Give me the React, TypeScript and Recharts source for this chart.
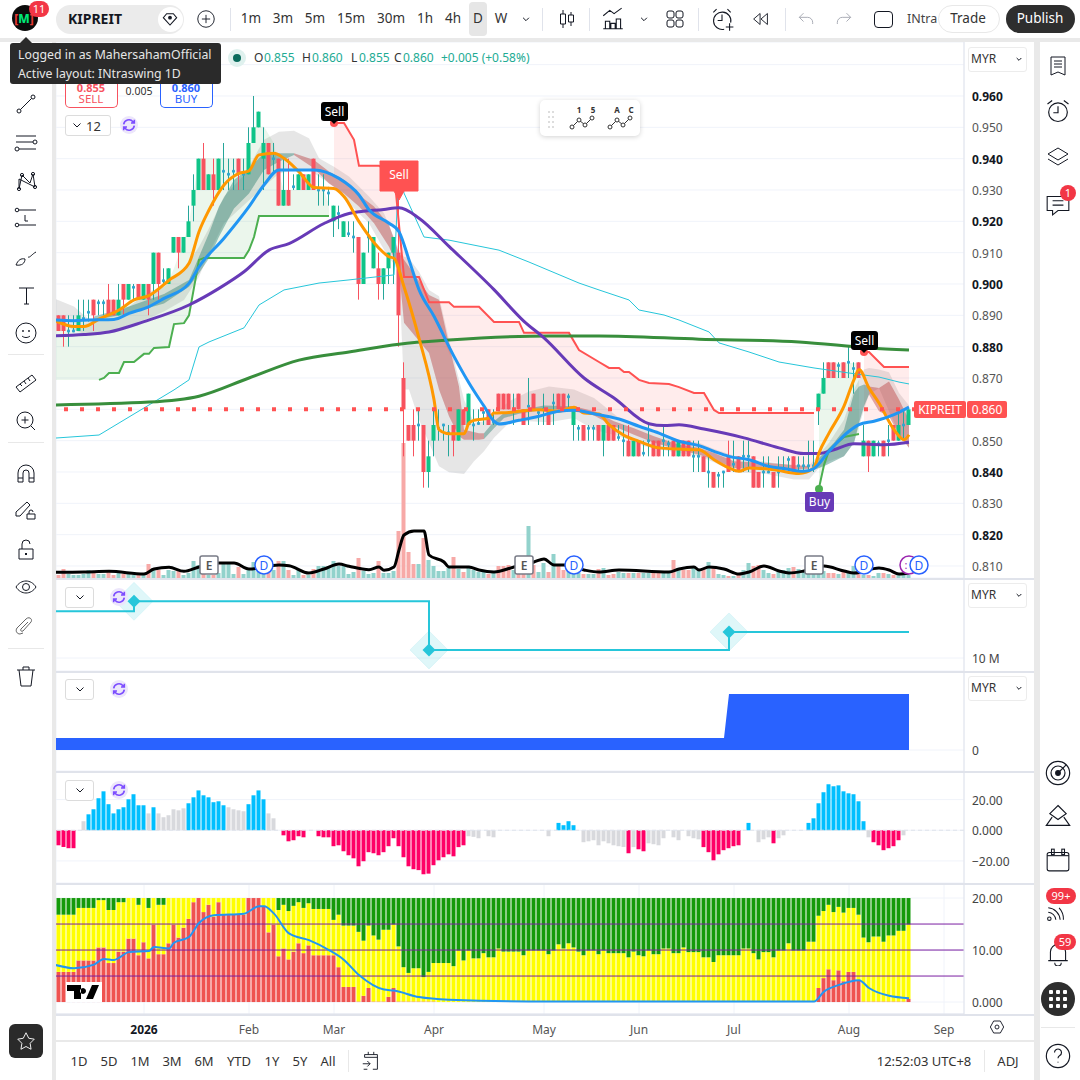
import {
  Area,
  Bar,
  CartesianGrid,
  Cell,
  ComposedChart,
  Line,
  ReferenceDot,
  ReferenceLine,
  XAxis,
  YAxis,
} from 'recharts'

const FONT = '"Noto Sans", "Open Sans", sans-serif'

// daily candles
const opens = [
  0.89, 0.89, 0.885, 0.885, 0.885, 0.889, 0.891, 0.895, 0.894, 0.894,
  0.895, 0.895, 0.89, 0.9, 0.895, 0.899, 0.9, 0.895, 0.9, 0.9,
  0.91, 0.901, 0.9, 0.91, 0.915, 0.91, 0.915, 0.925, 0.93, 0.94,
  0.93, 0.935, 0.93, 0.936, 0.935, 0.936, 0.94, 0.935, 0.935, 0.945,
  0.95, 0.94, 0.945, 0.94, 0.94, 0.925, 0.93, 0.931, 0.93, 0.935,
  0.93, 0.94, 0.93, 0.93, 0.929, 0.92, 0.9225, 0.915, 0.916, 0.915,
  0.915, 0.9, 0.915, 0.905, 0.905, 0.9, 0.905, 0.91, 0.91, 0.87,
  0.855, 0.855, 0.855, 0.855, 0.84, 0.85, 0.854, 0.855, 0.8525, 0.855,
  0.85, 0.86, 0.855, 0.855, 0.8555, 0.859, 0.86, 0.856, 0.865, 0.865,
  0.865, 0.86, 0.865, 0.86, 0.861, 0.865, 0.859, 0.86, 0.86, 0.862,
  0.865, 0.865, 0.864, 0.855, 0.854, 0.855, 0.854, 0.854, 0.855, 0.85,
  0.855, 0.855, 0.851, 0.85, 0.85, 0.845, 0.85, 0.846, 0.85, 0.85,
  0.85, 0.85, 0.849, 0.85, 0.845, 0.85, 0.85, 0.845, 0.845, 0.845,
  0.84, 0.84, 0.839, 0.84, 0.845, 0.8425, 0.845, 0.845, 0.845, 0.845,
  0.84, 0.84, 0.84, 0.84, 0.84, 0.841, 0.844, 0.845, 0.842, 0.842,
  0.842, 0.842, 0.86, 0.865, 0.875, 0.875, 0.874, 0.875, 0.875, 0.873,
  0.875, 0.845, 0.85, 0.845, 0.849, 0.85, 0.85, 0.855, 0.85, 0.855,
  0.855,
]
const closes = [
  0.885, 0.885, 0.885, 0.885, 0.89, 0.889, 0.891, 0.89, 0.894, 0.894,
  0.89, 0.89, 0.895, 0.895, 0.9, 0.899, 0.895, 0.9, 0.895, 0.91,
  0.9, 0.901, 0.905, 0.915, 0.91, 0.915, 0.92, 0.93, 0.94, 0.93,
  0.935, 0.93, 0.94, 0.936, 0.935, 0.936, 0.935, 0.935, 0.945, 0.95,
  0.955, 0.945, 0.935, 0.94, 0.925, 0.93, 0.925, 0.931, 0.935, 0.93,
  0.935, 0.93, 0.93, 0.93, 0.929, 0.925, 0.9225, 0.92, 0.916, 0.915,
  0.9, 0.91, 0.915, 0.915, 0.9, 0.905, 0.91, 0.915, 0.89, 0.86,
  0.85, 0.85, 0.855, 0.84, 0.845, 0.855, 0.854, 0.855, 0.8525, 0.85,
  0.86, 0.855, 0.865, 0.855, 0.8555, 0.859, 0.855, 0.856, 0.86, 0.86,
  0.86, 0.86, 0.86, 0.855, 0.861, 0.86, 0.859, 0.86, 0.855, 0.862,
  0.86, 0.86, 0.864, 0.86, 0.854, 0.85, 0.854, 0.854, 0.85, 0.855,
  0.85, 0.85, 0.851, 0.85, 0.845, 0.85, 0.845, 0.846, 0.85, 0.845,
  0.845, 0.85, 0.849, 0.845, 0.85, 0.845, 0.845, 0.845, 0.845, 0.84,
  0.84, 0.835, 0.839, 0.84, 0.84, 0.8425, 0.84, 0.845, 0.845, 0.835,
  0.835, 0.84, 0.84, 0.835, 0.84, 0.841, 0.844, 0.84, 0.842, 0.842,
  0.842, 0.842, 0.865, 0.87, 0.87, 0.87, 0.874, 0.87, 0.875, 0.873,
  0.87, 0.85, 0.845, 0.85, 0.849, 0.845, 0.85, 0.85, 0.855, 0.855,
  0.86,
]
const highs = [
  0.89, 0.89, 0.89, 0.89, 0.895, 0.895, 0.895, 0.895, 0.895, 0.895,
  0.9, 0.895, 0.9, 0.9, 0.9, 0.9, 0.9, 0.9, 0.9, 0.91,
  0.91, 0.905, 0.905, 0.915, 0.915, 0.915, 0.925, 0.935, 0.94, 0.945,
  0.935, 0.94, 0.94, 0.945, 0.94, 0.94, 0.94, 0.94, 0.95, 0.96,
  0.955, 0.95, 0.945, 0.945, 0.94, 0.94, 0.94, 0.935, 0.935, 0.935,
  0.935, 0.94, 0.935, 0.935, 0.931, 0.925, 0.925, 0.92, 0.92, 0.92,
  0.915, 0.91, 0.92, 0.915, 0.91, 0.905, 0.91, 0.915, 0.937, 0.875,
  0.855, 0.86, 0.86, 0.855, 0.85, 0.86, 0.86, 0.855, 0.855, 0.855,
  0.86, 0.86, 0.865, 0.86, 0.86, 0.86, 0.86, 0.86, 0.865, 0.865,
  0.865, 0.865, 0.865, 0.86, 0.87, 0.865, 0.86, 0.865, 0.86, 0.865,
  0.865, 0.865, 0.865, 0.86, 0.855, 0.855, 0.855, 0.855, 0.855, 0.855,
  0.855, 0.855, 0.855, 0.855, 0.855, 0.85, 0.85, 0.85, 0.855, 0.85,
  0.85, 0.855, 0.85, 0.85, 0.85, 0.85, 0.85, 0.85, 0.85, 0.845,
  0.845, 0.84, 0.84, 0.84, 0.85, 0.85, 0.845, 0.85, 0.85, 0.845,
  0.84, 0.845, 0.845, 0.84, 0.845, 0.845, 0.845, 0.845, 0.845, 0.845,
  0.85, 0.85, 0.865, 0.875, 0.875, 0.875, 0.875, 0.875, 0.88, 0.875,
  0.875, 0.855, 0.85, 0.85, 0.85, 0.85, 0.855, 0.855, 0.86, 0.86,
  0.86,
]
const lows = [
  0.885, 0.88, 0.88, 0.885, 0.885, 0.885, 0.888, 0.885, 0.89, 0.89,
  0.89, 0.89, 0.89, 0.89, 0.895, 0.895, 0.895, 0.895, 0.89, 0.895,
  0.895, 0.9, 0.9, 0.91, 0.905, 0.91, 0.915, 0.92, 0.93, 0.93,
  0.93, 0.925, 0.93, 0.93, 0.93, 0.93, 0.93, 0.93, 0.935, 0.945,
  0.95, 0.93, 0.935, 0.935, 0.925, 0.925, 0.925, 0.93, 0.93, 0.93,
  0.93, 0.93, 0.925, 0.925, 0.925, 0.915, 0.9175, 0.915, 0.915, 0.91,
  0.895, 0.9, 0.91, 0.905, 0.895, 0.895, 0.9, 0.9, 0.88, 0.845,
  0.85, 0.845, 0.85, 0.835, 0.835, 0.845, 0.85, 0.85, 0.845, 0.845,
  0.85, 0.855, 0.855, 0.85, 0.855, 0.855, 0.855, 0.855, 0.86, 0.86,
  0.86, 0.855, 0.86, 0.855, 0.855, 0.86, 0.855, 0.855, 0.855, 0.855,
  0.86, 0.86, 0.86, 0.85, 0.85, 0.85, 0.85, 0.85, 0.85, 0.845,
  0.85, 0.85, 0.85, 0.845, 0.845, 0.845, 0.845, 0.845, 0.845, 0.845,
  0.845, 0.845, 0.845, 0.845, 0.845, 0.845, 0.845, 0.84, 0.84, 0.84,
  0.835, 0.835, 0.835, 0.835, 0.84, 0.84, 0.84, 0.84, 0.84, 0.835,
  0.835, 0.835, 0.84, 0.835, 0.835, 0.84, 0.84, 0.84, 0.84, 0.84,
  0.84, 0.84, 0.855, 0.865, 0.87, 0.87, 0.87, 0.87, 0.87, 0.865,
  0.87, 0.845, 0.84, 0.845, 0.845, 0.845, 0.845, 0.85, 0.85, 0.85,
  0.855,
]
const volumes = [
  3, 9, 4, 3, 3, 4, 8, 5, 4, 4, 7, 3, 6, 4, 4, 3, 3, 3, 14, 10,
  8, 3, 8, 7, 7, 3, 5, 17, 13, 6, 3, 3, 5, 16, 14, 4, 11, 4, 9, 16,
  8, 5, 6, 8, 17, 17, 8, 3, 8, 3, 3, 9, 12, 12, 12, 17, 12, 12, 4, 6,
  20, 7, 4, 5, 17, 5, 5, 7, 47, 135, 26, 14, 14, 40, 18, 12, 7, 7, 10, 21,
  9, 6, 10, 8, 6, 6, 4, 5, 12, 12, 13, 8, 7, 8, 52, 13, 6, 15, 6, 24,
  13, 8, 12, 11, 5, 4, 4, 4, 9, 10, 3, 4, 6, 5, 5, 5, 5, 5, 5, 5,
  5, 5, 5, 18, 10, 8, 8, 10, 8, 10, 16, 10, 4, 3, 2, 2, 3, 8, 15, 12,
  13, 8, 5, 4, 8, 8, 10, 11, 9, 6, 4, 4, 10, 7, 5, 5, 4, 6, 6, 12,
  5, 3, 3, 2, 5, 5, 4, 3, 5, 4, 3,
]

// overlay lines as [bar, value]; bar -1 runs under the left edge of the plot
const orangePts = [[-1,.8885],[3,.8864],[5,.8864],[8,.8888],[12,.8917],[15,.8949],[18,.8963],[22,.9012],[26,.9066],[28,.9167],[30,.9236],[33,.9316],[36,.9353],[38,.9361],[40,.9412],[43,.9417],[45,.9401],[48,.9358],[51,.9308],[55,.9305],[57,.9279],[60,.9199],[64,.9114],[66,.9087],[67,.9082],[69,.8991],[72,.8827],[75,.8631],[76,.8535],[78,.8522],[81,.8522],[82,.8556],[83,.8565],[86,.8572],[87,.8588],[90,.859],[92,.8594],[96,.8599],[100,.8594],[103,.8607],[105,.8588],[108,.8585],[110,.8551],[113,.8517],[116,.8498],[120,.8477],[124,.8473],[128,.8471],[131,.8439],[134,.8413],[136,.8402],[138,.8413],[143,.8407],[148,.8395],[151,.8413],[152,.8461],[154,.8524],[157,.861],[159,.8695],[160,.8727],[162,.8668],[164,.862],[167,.8535],[169,.8503],[170,.8519]]
const bluePts = [[-1,.8885],[3,.8883],[6,.8885],[11,.8887],[14,.8906],[18,.8928],[21,.8954],[26,.9002],[28,.9055],[33,.9146],[38,.9247],[41,.9316],[44,.9364],[51,.9364],[56,.9337],[60,.9284],[62,.9237],[66,.9194],[68,.9167],[70,.9077],[72,.8982],[75,.8897],[79,.8769],[82,.8684],[85,.861],[87,.8562],[88,.8553],[92,.8565],[96,.8578],[100,.8594],[103,.8597],[107,.8586],[112,.8569],[116,.8546],[120,.8524],[124,.8498],[128,.8484],[131,.8466],[134,.845],[138,.8439],[142,.8418],[145,.8411],[149,.8402],[151,.8411],[154,.8466],[158,.853],[160,.8551],[163,.8562],[167,.8583],[170,.8607]]
const purplePts = [[-1,.8835],[5,.8839],[10,.8847],[17,.888],[26,.8933],[32,.8986],[37,.9039],[42,.9108],[46,.9129],[53,.9193],[58,.9225],[65,.9238],[68,.9243],[72,.921],[78,.912],[87,.8982],[93,.8881],[97,.8828],[105,.87],[111,.8636],[118,.8554],[121,.8548],[124,.8551],[129,.8537],[137,.8509],[144,.8477],[149,.8459],[152,.8459],[155,.8471],[159,.849],[165,.8487],[170,.8495]]
const longPts = [[-1,.8614],[18,.8623],[28,.8642],[38,.87],[48,.8757],[58,.8783],[68,.8808],[78,.8821],[98,.8834],[108,.8834],[128,.8824],[148,.8815],[162,.8796],[170,.8789]]
const thinPts = [[-1,.8508],[8,.8518],[18,.8614],[23,.8662],[26,.8694],[28,.8799],[30,.8815],[37,.886],[40,.8933],[45,.8981],[52,.9003],[58,.9013],[67,.9029],[68,.9373],[69,.929],[73,.915],[78,.914],[88,.9108],[94,.907],[104,.9003],[108,.8981],[111,.8965],[114,.8949],[116,.8917],[121,.8901],[124,.8885],[130,.8847],[132,.8812],[138,.8783],[144,.8751],[151,.8732],[158,.8716],[164,.8703],[168,.8687],[170,.8681]]
const volAvgPts = [[-1,5.7],[5,6],[10,6.7],[17,4],[19,9],[22,10.7],[25,6.7],[28,11],[32,15],[35,15],[38,9],[44,13],[46,12.3],[50,5],[53,9],[56,14],[58,11.7],[62,8.3],[64,11],[65,7.7],[67,11],[68,28],[69,43],[71,47],[73,47],[74,23],[77,16],[78,11],[82,11],[84,8],[87,6],[91,11],[95,16],[97,19],[99,13],[101,13],[105,8],[108,6],[112,8],[122,6],[124,9],[127,11],[128,8],[130,11],[133,9],[136,4],[138,6],[141,12],[144,7],[146,5],[149,7],[153,12],[157,7],[159,5],[164,10],[166,8],[168,4],[170,5]]

// filled bands as [bar, low, high]
const pinkA = [[55,.9345,.9514],[57,.9325,.9514],[59,.93,.946],[60,.9284,.9377],[64,.9215,.9377],[65,.9205,.937],[67,.918,.9357],[69,.911,.9022],[72,.901,.9022],[74,.8938,.8942],[78,.878,.8942],[79,.875,.8927],[84,.8645,.8927],[87,.8562,.8879],[92,.8565,.8879],[93,.8565,.8844],[102,.8597,.8844],[104,.8597,.8789],[108,.8583,.8751],[110,.8575,.8732],[112,.8569,.8732],[113,.8565,.8719],[114,.856,.8719],[116,.8546,.8694],[118,.8535,.8684],[122,.8512,.8681],[124,.8498,.8671],[127,.8478,.8652],[129,.8475,.8652],[131,.8466,.8598],[132,.846,.8588],[151,.8411,.8588]]
const pinkB = [[161,.8555,.8783],[162,.8558,.8783],[165,.8575,.8735],[170,.8607,.8735]]
const greenA = [[-1,.8694,.8885],[4,.8694,.8864],[8,.8694,.8891],[9,.87,.89],[10,.8716,.8905],[12,.8716,.8917],[13,.8751,.8925],[15,.8751,.8949],[17,.8777,.8955],[18,.8777,.8963],[19,.8796,.8975],[22,.8799,.9013],[23,.8872,.905],[25,.8875,.914],[26,.89,.9194],[28,.9077,.9401],[29,.9083,.9401],[37,.9083,.9401],[38,.9108,.9401],[39,.915,.9502],[40,.9217,.9502],[41,.9217,.9502],[43,.9217,.9449],[44,.9217,.9348],[45,.9217,.93],[53,.9217,.93],[54,.9217,.9252]]
const greenB = [[152,.8349,.8652],[153,.8422,.87],[154,.847,.8748],[157,.8512,.8748],[160,.8521,.8748]]
const greyCloud = [[-1,.8885,.8954],[3,.8853,.8928],[6,.8834,.8887],[11,.8848,.8901],[14,.8869,.8928],[18,.8891,.8976],[21,.8912,.8991],[25,.8949,.9045],[28,.9023,.9119],[30,.9098,.9178],[33,.9194,.9279],[37,.9252,.9348],[41,.9311,.946],[44,.9353,.9486],[47,.9364,.9489],[50,.9364,.9465],[52,.9343,.9401],[55,.9311,.9374],[58,.9257,.9343],[62,.9194,.9279],[65,.9109,.9226],[68,.9039,.9109],[69,.8663,.9087],[70,.8663,.9082],[72,.8567,.9039],[74,.8493,.8981],[76,.8418,.8961],[78,.8399,.8822],[81,.8394,.8631],[83,.8434,.8556],[85,.8466,.8562],[87,.8509,.8583],[90,.8556,.8626],[94,.8562,.8657],[98,.8559,.8673],[103,.8572,.8663],[107,.8535,.8636],[112,.8514,.8572],[117,.8482,.8535],[124,.8461,.8503],[128,.845,.8493],[131,.8431,.8473],[135,.8399,.8452],[141,.8395,.8434],[147,.8376,.8421],[150,.8376,.8421],[152,.8413,.8455],[154,.8434,.8493],[157,.845,.8567],[159,.8493,.8663],[161,.8599,.8727],[162,.8647,.8732],[164,.8668,.8727],[166,.8594,.8718],[168,.8524,.8652],[170,.8477,.8612]]
const tealRibbonA = [[7,.8885,.8896],[14,.8906,.8928],[21,.8938,.8968],[26,.8991,.9013],[28,.9034,.9087],[30,.9082,.9162],[32,.9151,.9247],[35,.9241,.9332],[38,.9289,.9369],[41,.9364,.9417],[44,.939,.9417],[47,.9412,.9417]]
const redRibbonA = [[47,.9412,.9417],[51,.9369,.9396],[54,.9321,.9359],[57,.9289,.9332],[60,.9247,.9284],[63,.9194,.9247],[66,.9119,.9188],[68,.9045,.9098],[69,.8876,.9077],[74,.878,.8965],[76,.8663,.895],[78,.8578,.8806],[80,.8514,.8673],[81,.8503,.8535],[84,.8503,.8524],[85,.8505,.8524]]
const tealRibbonB = [[85,.8505,.8524],[87,.854,.8562],[89,.8572,.8588],[92,.8586,.8597],[97,.8599,.8612],[103,.8601,.861]]
const redRibbonB = [[103,.8601,.861],[107,.858,.8594],[111,.8546,.8562],[115,.8519,.854],[119,.8493,.8514],[124,.8471,.8487],[128,.8455,.8477],[131,.8439,.8461],[135,.8413,.8434],[142,.8407,.8429],[150,.841,.8418]]
const tealRibbonC = [[151,.8407,.8429],[153,.8418,.8461],[155,.8434,.8493],[157,.845,.8535],[159,.8493,.8652],[160,.8556,.8673],[161,.861,.8679],[162,.8647,.8673]]
const redRibbonC = [[162,.8647,.8673],[164,.8594,.8668],[166,.8578,.8689],[168,.8519,.8631],[170,.8477,.8567]]

// signal labels
const sellSignals = [{ bar: 55, price: 0.9514 }, { bar: 161, price: 0.8783 }]
const flagSignals = [{ bar: 68, price: 0.9268 }]
const buySignals = [{ bar: 152, price: 0.8346 }]
const earningsBars = [30, 93, 151]
const dividendBars = [41, 103, 161, 172]
const splitBars = [170]
const LAST_PRICE = 0.86

// second pane: step line with pivots, third pane: filled step
const stepPts = [[-1,15.2],[15,16.3],[74,10.9],[134,12.9],[170,12.9]]
const stepPivots = [[15,16.3],[74,10.9],[134,12.9]]
const flowPts = [[-1,12],[133,12],[134,56],[170,56]]

// momentum histogram
const histValues = [
  -9.8, -10.9, -11.7, -11.7, 0, 5.9, 10.4, 13.7, 20.9, 25.4,
  17, 11, 13.7, 15, 20.2, 23.5, 16.3, 16.3, 11, 15,
  11, 8.5, 9.8, 13.7, 13, 14.3, 17.6, 21.5, 26, 22.8,
  21.5, 18.3, 18.9, 16.3, 15, 13.7, 13, 12.4, 17, 22.8,
  26, 20.2, 11, 7.8, 0, -3.3, -7.2, -6.5, -3.9, -4.6,
  0, 0, -3.9, -4.6, -4.6, -10.4, -9.8, -13.7, -16.3, -18.3,
  -23.5, -20.2, -14.3, -15, -16.3, -14.3, -10.4, -5.2, -10.4, -17.6,
  -23.5, -25.4, -26, -28.7, -28.3, -22.8, -19.6, -17.6, -15.7, -17,
  -11, -9.8, -3.9, -4.3, -5.2, 0, -3.9, -4.6, 0, 0,
  0, 0, 0, 0, 0, 0, 0, 0, -3.9, 0,
  4.8, 3.3, 5.9, 3.3, 0, -7.8, -7.2, -6.5, -9.8, -7.2,
  -8.5, -9.8, -10.4, -10.9, -15, -11, -12.4, -13.7, -8.5, -9.1,
  -9.8, -5.2, 0, -4.6, -6.5, 0, -3.9, -5.2, -5.9, -11,
  -14.3, -19.6, -15.7, -13, -11.7, -10.4, -9.8, 0, 4.8, 0,
  -7.8, -5.9, -4.6, -8.5, -5.2, -3.3, 0, 0, 0, 0,
  4.8, 7.8, 17.6, 24.8, 30, 28.7, 29.3, 25.4, 24.1, 23.5,
  18.9, 5.9, -4.6, -7.8, -9.8, -13, -11.7, -10.4, -6.5, -3.3,
  0,
]
const histFlatBars = [5,18,20,21,22,23,24,25,34,35,36,37,42,43,82,83,84,86,87,98,105,106,107,108,109,110,111,112,113,115,118,119,120,121,123,124,126,127,128,140,141,142,144,145,162,169]

// last pane stack: red part and top of the yellow part, green fills up to 20
const redValues = [
  5.8, 5.8, 5.8, 5.8, 8, 8, 8, 8, 10.5, 10.5,
  7.5, 7.5, 9.7, 9.7, 12.2, 12.2, 9, 11.5, 8.4, 14.9,
  9.2, 9.2, 11.3, 14.9, 12.4, 14.3, 16, 19.2, 20, 17.3,
  18.7, 16.4, 19.2, 16.8, 16.8, 16.8, 16.8, 16.8, 20, 20,
  20, 18.3, 13.4, 14.9, 8.8, 10.3, 8.2, 9.7, 11.3, 9.4,
  10.9, 9, 9, 9, 9, 9, 6.7, 2.9, 2.9, 2.9,
  0.1, 1.2, 2.7, 0.1, 0.1, 0.1, 1, 2.7, 0.1, 0.1,
  0.1, 0.1, 0.1, 0.1, 0.1, 0.1, 0, 0, 0, 0,
  0, 0, 0, 0, 0, 0, 0, 0, 0, 0,
  0, 0, 0, 0, 0, 0, 0, 0, 0, 0,
  0, 0, 0, 0, 0, 0, 0, 0, 0, 0,
  0, 0, 0, 0, 0, 0, 0, 0, 0, 0,
  0, 0, 0, 0, 0, 0, 0, 0, 0, 0,
  0, 0, 0, 0, 0, 0, 0, 0, 0, 0,
  0, 0, 0, 0, 0, 0, 0, 0, 0, 0,
  0, 0, 2.7, 4.6, 6.3, 4.2, 6.1, 4, 5.8, 5.8,
  4.2, 0.1, 0.1, 0.1, 0.1, 0.1, 0.1, 0.1, 0.1, 0.1,
  0.6,
]
const yellowTops = [
  16.8, 16.8, 16.8, 16.8, 18.1, 18.1, 18.1, 18.1, 19.6, 19.6,
  17.7, 17.7, 19.2, 19.2, 20, 20, 18.7, 20, 18.1, 20,
  18.7, 18.7, 20, 20, 20, 20, 20, 20, 20, 20,
  20, 20, 20, 20, 20, 20, 20, 20, 20, 20,
  20, 20, 20, 20, 17.7, 18.7, 17.5, 18.5, 19.2, 18.1,
  19, 17.9, 17.9, 17.9, 17.9, 15.8, 16.8, 14.7, 14.7, 14.7,
  13.5, 11.8, 14.7, 12.8, 12, 13.9, 13.9, 14.9, 10.7, 6.7,
  5.6, 6.5, 6.5, 4.8, 5.8, 7.5, 7.5, 7.5, 7.5, 6.9,
  9.9, 8, 9.9, 8.4, 8.4, 9.4, 8.6, 8.6, 10.3, 9.7,
  9.7, 9.7, 9.7, 9, 9.9, 9.9, 9.9, 9.9, 9.2, 9.9,
  11.1, 10.3, 11.3, 10.5, 9.7, 9, 9.9, 9.9, 9.2, 9.9,
  9.4, 9.4, 9.4, 9.4, 8.6, 9.7, 9, 8.8, 9.9, 9.2,
  9.2, 10.3, 10.3, 9.4, 9.4, 10.5, 9.6, 9.6, 9.6, 8.6,
  8.6, 7.7, 9, 9, 9, 9, 9, 10.3, 10.3, 9.4,
  8.2, 9.6, 9.6, 8.6, 9.9, 9.9, 11.3, 9.9, 9.9, 9.9,
  11.6, 11.6, 16.6, 17.5, 18.7, 17.3, 18.3, 17.2, 18.1, 18.1,
  16.8, 12.4, 11.5, 12.6, 12.6, 11.6, 12.8, 12.8, 13.7, 13.7,
  14.9,
]
const stackLinePts = [[-1,7.2],[3,6.5],[7,7.2],[9,8.3],[11,8.1],[14,9.6],[18,9.8],[19,10.6],[22,10.3],[23,11.4],[26,12.5],[28,15.2],[31,16.7],[37,17],[40,18.4],[41,18.4],[43,17],[46,13.2],[50,11.9],[54,10],[57,8.1],[60,5.2],[65,2.4],[67,2.2],[72,0.95],[78,0.45],[98,0.1],[151,0.1],[153,2],[156,3.3],[160,4.2],[162,2.7],[166,1.2],[170,0.75]]

// axis ticks
const monthTicks = [17, 38, 55, 75, 97, 116, 135, 158, 177]
const monthLabels = ['2026', 'Feb', 'Mar', 'Apr', 'May', 'Jun', 'Jul', 'Aug', 'Sep']
const priceTicks = [0.97, 0.96, 0.95, 0.94, 0.93, 0.92, 0.91, 0.9, 0.89, 0.88, 0.87, 0.86, 0.85, 0.84, 0.83, 0.82, 0.81]
const stepTicks = [10]
const flowTicks = [0]
const histTicks = [20, 0, -20]
const stackTicks = [20, 10, 0]
const guideLevels = [15, 10, 5]

const toPts = (pts: number[][]) => pts.map(([i, v]) => ({ i, v }))
const toBand = (rows: number[][]) => rows.map(([i, lo, hi]) => ({ i, range: [lo, hi] }))

const candleRows = opens.map((open, i) => ({
  i,
  open,
  close: closes[i],
  high: highs[i],
  low: lows[i],
  vol: volumes[i],
}))
const histRows = histValues.map((v, i) => ({ i, v }))
const stackRows = redValues.map((red, i) => ({
  i,
  red,
  yellow: Math.max(yellowTops[i] - red, 0),
  green: 20 - yellowTops[i],
}))

const CHART_W = 976
const PLOT_RIGHT_W = 68
const X_DOMAIN: [number, number] = [-0.6, 181]

const CandleShape = (props: any) => {
  const { x, y, width, height, payload } = props
  const { open, close, high, low } = payload
  const span = high - low
  const mid = x + width / 2
  const toY = (p: number) => y + ((high - p) / span) * height
  if (open === close) {
    return (
      <g>
        <line x1={mid} x2={mid} y1={y} y2={y + height} stroke="#26a69a" strokeWidth={1} />
        <rect x={mid - 1.5} y={toY(close) - 1.5} width={3} height={3} rx={1} fill="#2ea6cf" />
      </g>
    )
  }
  const up = close > open
  const top = toY(Math.max(open, close))
  const bottom = toY(Math.min(open, close))
  return (
    <g>
      <line x1={mid} x2={mid} y1={y} y2={y + height} stroke={up ? '#26a69a' : '#f7525f'} strokeWidth={1} />
      <rect x={x} y={top} width={width} height={bottom - top} fill={up ? '#0fc488' : '#f7525f'} />
    </g>
  )
}

const VolumeShape = (props: any) => {
  const { x, y, width, height, payload } = props
  const color = payload.close >= payload.open ? '#92d2cc' : '#f7a9a7'
  return <rect x={x} y={y} width={width} height={height} fill={color} />
}

const SellLabel = ({ cx, cy }: any) => (
  <g fontFamily={FONT}>
    <circle cx={cx} cy={cy} r={4} fill="#ff5252" />
    <path d={`M${cx - 4} ${cy - 3}L${cx} ${cy + 1}L${cx + 4} ${cy - 3}Z`} fill="#000" />
    <rect x={cx - 13} y={cy - 21} width={27} height={19} rx={3} fill="#000" />
    <text x={cx + 0.5} y={cy - 7} textAnchor="middle" fontSize={12} fill="#fff">Sell</text>
  </g>
)

const FlagLabel = ({ cx, cy }: any) => (
  <g fontFamily={FONT}>
    <path
      d={`M${cx - 19} ${cy - 39}h38v30h-14l-5 9l-5 -9h-14Z`}
      fill="#ff5252"
      stroke="#ff5252"
      strokeLinejoin="round"
    />
    <text x={cx} y={cy - 21} textAnchor="middle" fontSize={12} fill="#fff">Sell</text>
  </g>
)

const BuyLabel = ({ cx, cy }: any) => (
  <g fontFamily={FONT}>
    <circle cx={cx} cy={cy} r={4} fill="#4caf50" />
    <rect x={cx - 14} y={cy + 3} width={29} height={20} rx={3} fill="#673ab7" />
    <text x={cx + 0.5} y={cy + 17} textAnchor="middle" fontSize={12} fill="#fff">Buy</text>
  </g>
)

const EarningsMark = ({ cx, cy }: any) => (
  <g fontFamily={FONT}>
    <rect x={cx - 9} y={cy - 9} width={18} height={18} rx={2} fill="#fff" stroke="#787b86" strokeWidth={1.5} />
    <text x={cx} y={cy + 4.5} textAnchor="middle" fontSize={12} fontWeight={600} fill="#555">E</text>
  </g>
)

const DividendMark = ({ cx, cy }: any) => (
  <g fontFamily={FONT}>
    <circle cx={cx} cy={cy} r={9} fill="#fff" stroke="#2962ff" strokeWidth={1.5} />
    <text x={cx} y={cy + 4.5} textAnchor="middle" fontSize={12} fill="#2962ff">D</text>
  </g>
)

const SplitMark = ({ cx, cy }: any) => (
  <g fontFamily={FONT}>
    <circle cx={cx} cy={cy} r={9} fill="#fff" stroke="#9c27b0" strokeWidth={1.5} />
    <text x={cx - 3} y={cy + 4} textAnchor="middle" fontSize={11} fill="#9c27b0">:</text>
  </g>
)

const PivotMark = ({ cx, cy }: any) => (
  <g>
    <path d={`M${cx} ${cy - 19}L${cx + 19} ${cy}L${cx} ${cy + 19}L${cx - 19} ${cy}Z`} fill="#26c6da" fillOpacity={0.15} stroke="#26c6da" strokeOpacity={0.1} strokeLinejoin="round" />
    <path d={`M${cx} ${cy - 6.5}L${cx + 6.5} ${cy}L${cx} ${cy + 6.5}L${cx - 6.5} ${cy}Z`} fill="#26c6da" />
  </g>
)

const PriceTick = ({ x, y, payload }: any) => {
  const v = payload.value
  if (v > 0.965) return null
  const even = Math.round(v * 100) % 2 === 0
  return (
    <text x={x} y={y + 5} fontFamily={FONT} fontSize={12} fontWeight={even ? 700 : 400} fill={even ? '#131722' : '#555'}>
      {v.toFixed(3)}
    </text>
  )
}

const makeValueTick = (format: (v: number) => string) => ({ x, y, payload }: any) => (
  <text x={x} y={y + 5} fontFamily={FONT} fontSize={12} fill="#444">
    {format(payload.value)}
  </text>
)
const twoDecimal = (v: number) => (v === 0 ? '0.000' : (v < 0 ? '\u2212' : '') + Math.abs(v).toFixed(2))

const MonthTick = ({ x, y, payload }: any) => {
  const idx = monthTicks.indexOf(payload.value)
  return (
    <text x={x} y={y + 12} textAnchor="middle" fontFamily={FONT} fontSize={12} fontWeight={idx === 0 ? 700 : 400} fill={idx === 0 ? '#131722' : '#555'}>
      {monthLabels[idx]}
    </text>
  )
}

const hiddenX = (
  <XAxis
    dataKey="i"
    type="number"
    domain={X_DOMAIN}
    ticks={monthTicks}
    allowDataOverflow
    height={0}
    tick={false}
    tickLine={false}
    axisLine={false}
  />
)

const Band = ({ rows, fill }: { rows: number[][]; fill: string }) => (
  <Area
    data={toBand(rows)}
    dataKey="range"
    type="linear"
    fill={fill}
    fillOpacity={1}
    stroke="none"
    dot={false}
    activeDot={false}
    isAnimationActive={false}
  />
)

const Path = ({ pts, stroke, width, curve = 'linear' }: { pts: { i: number; v: number }[]; stroke: string; width: number; curve?: any }) => (
  <Line
    data={pts}
    dataKey="v"
    type={curve}
    stroke={stroke}
    strokeWidth={width}
    dot={false}
    activeDot={false}
    isAnimationActive={false}
  />
)

function MainPane() {
  return (
    <div style={{ position: 'absolute', left: 56, top: 42 }}>
      <ComposedChart width={CHART_W} height={536} data={candleRows} margin={{ top: 0, right: 0, bottom: 0, left: 0 }} barGap={-4}>
        <CartesianGrid stroke="#f0f3fa" />
        {hiddenX}
        <YAxis
          orientation="right"
          width={PLOT_RIGHT_W}
          domain={[0.80617, 0.97723]}
          ticks={priceTicks}
          interval={0}
          allowDataOverflow
          tick={<PriceTick />}
          tickLine={false}
          axisLine={{ stroke: '#e0e3eb' }}
        />
        <YAxis yAxisId="v" hide domain={[0, 536]} allowDataOverflow />
        {Band({ rows: greyCloud, fill: 'rgba(130,130,130,0.2)' })}
        {Band({ rows: pinkA, fill: 'rgba(255,82,82,0.11)' })}
        {Band({ rows: pinkB, fill: 'rgba(255,82,82,0.11)' })}
        {Band({ rows: greenA, fill: 'rgba(76,175,80,0.11)' })}
        {Band({ rows: greenB, fill: 'rgba(76,175,80,0.11)' })}
        {Band({ rows: tealRibbonA, fill: 'rgba(38,125,110,0.42)' })}
        {Band({ rows: tealRibbonB, fill: 'rgba(38,125,110,0.42)' })}
        {Band({ rows: tealRibbonC, fill: 'rgba(38,125,110,0.42)' })}
        {Band({ rows: redRibbonA, fill: 'rgba(178,40,40,0.38)' })}
        {Band({ rows: redRibbonB, fill: 'rgba(178,40,40,0.38)' })}
        {Band({ rows: redRibbonC, fill: 'rgba(178,40,40,0.38)' })}
        <Bar yAxisId="v" dataKey="vol" barSize={4} shape={<VolumeShape />} isAnimationActive={false} />
        <Bar dataKey={(r: any) => [r.low, r.high]} barSize={4} shape={<CandleShape />} isAnimationActive={false} />
        {Path({ pts: toPts(thinPts), stroke: '#26c6da', width: 1 })}
        {Path({ pts: pinkA.map(([i, , hi]) => ({ i, v: hi })), stroke: '#ff5252', width: 2 })}
        {Path({ pts: pinkB.map(([i, , hi]) => ({ i, v: hi })), stroke: '#ff5252', width: 2 })}
        {Path({ pts: greenA.filter(([i]) => i >= 8).map(([i, lo]) => ({ i, v: lo })), stroke: '#4caf50', width: 2 })}
        {Path({ pts: greenB.map(([i, lo]) => ({ i, v: lo })), stroke: '#4caf50', width: 2 })}
        {Path({ pts: toPts(longPts), stroke: '#388e3c', width: 3, curve: 'monotone' })}
        {Path({ pts: toPts(purplePts), stroke: '#673ab7', width: 3, curve: 'monotone' })}
        {Path({ pts: toPts(orangePts), stroke: '#ff9800', width: 3, curve: 'monotone' })}
        {Path({ pts: toPts(bluePts), stroke: '#2196f3', width: 3, curve: 'monotone' })}
        <Line
          yAxisId="v"
          data={toPts(volAvgPts)}
          dataKey="v"
          type="monotone"
          stroke="#000"
          strokeWidth={3}
          dot={false}
          activeDot={false}
          isAnimationActive={false}
        />
        <ReferenceLine y={LAST_PRICE} stroke="#ff5252" strokeWidth={4} strokeDasharray="4 12" />
        {sellSignals.map((s) => (
          <ReferenceDot key={s.bar} x={s.bar} y={s.price} ifOverflow="visible" shape={<SellLabel />} />
        ))}
        {flagSignals.map((s) => (
          <ReferenceDot key={s.bar} x={s.bar} y={s.price} ifOverflow="visible" shape={<FlagLabel />} />
        ))}
        {buySignals.map((s) => (
          <ReferenceDot key={s.bar} x={s.bar} y={s.price} ifOverflow="visible" shape={<BuyLabel />} />
        ))}
        {earningsBars.map((b) => (
          <ReferenceDot key={b} yAxisId="v" x={b} y={13} ifOverflow="visible" shape={<EarningsMark />} />
        ))}
        {splitBars.map((b) => (
          <ReferenceDot key={b} yAxisId="v" x={b} y={13} ifOverflow="visible" shape={<SplitMark />} />
        ))}
        {dividendBars.map((b) => (
          <ReferenceDot key={b} yAxisId="v" x={b} y={13} ifOverflow="visible" shape={<DividendMark />} />
        ))}
      </ComposedChart>
    </div>
  )
}

function StepPane() {
  return (
    <div style={{ position: 'absolute', left: 56, top: 579 }}>
      <ComposedChart width={CHART_W} height={92} margin={{ top: 0, right: 0, bottom: 0, left: 0 }}>
        <CartesianGrid stroke="#f0f3fa" />
        {hiddenX}
        <YAxis
          orientation="right"
          width={PLOT_RIGHT_W}
          domain={[8.56, 18.78]}
          ticks={stepTicks}
          interval={0}
          allowDataOverflow
          tick={makeValueTick((v) => `${v} M`)}
          tickLine={false}
          axisLine={{ stroke: '#e0e3eb' }}
        />
        {Path({ pts: toPts(stepPts), stroke: '#26c6da', width: 2, curve: 'stepAfter' })}
        {stepPivots.map(([bar, v]) => (
          <ReferenceDot key={bar} x={bar} y={v} ifOverflow="visible" shape={<PivotMark />} />
        ))}
      </ComposedChart>
    </div>
  )
}

function FlowPane() {
  return (
    <div style={{ position: 'absolute', left: 56, top: 672 }}>
      <ComposedChart width={CHART_W} height={99} margin={{ top: 0, right: 0, bottom: 0, left: 0 }}>
        <CartesianGrid stroke="#f0f3fa" />
        {hiddenX}
        <YAxis
          orientation="right"
          width={PLOT_RIGHT_W}
          domain={[-21, 78]}
          ticks={flowTicks}
          interval={0}
          allowDataOverflow
          tick={makeValueTick((v) => `${v}`)}
          tickLine={false}
          axisLine={{ stroke: '#e0e3eb' }}
        />
        <Area
          data={toPts(flowPts)}
          dataKey="v"
          type="linear"
          baseValue={0}
          fill="#2962ff"
          fillOpacity={1}
          stroke="none"
          dot={false}
          activeDot={false}
          isAnimationActive={false}
        />
      </ComposedChart>
    </div>
  )
}

function HistPane() {
  return (
    <div style={{ position: 'absolute', left: 56, top: 772 }}>
      <ComposedChart width={CHART_W} height={111} data={histRows} margin={{ top: 0, right: 0, bottom: 0, left: 0 }}>
        <CartesianGrid stroke="#f0f3fa" />
        {hiddenX}
        <YAxis
          orientation="right"
          width={PLOT_RIGHT_W}
          domain={[-34.4, 38]}
          ticks={histTicks}
          interval={0}
          allowDataOverflow
          tick={makeValueTick(twoDecimal)}
          tickLine={false}
          axisLine={{ stroke: '#e0e3eb' }}
        />
        <ReferenceLine y={0} stroke="#e0e3eb" strokeDasharray="4 3" />
        <Bar dataKey="v" barSize={4} isAnimationActive={false}>
          {histRows.map((r) => (
            <Cell key={r.i} fill={histFlatBars.includes(r.i) ? '#d8d9dd' : r.v > 0 ? '#00bfff' : '#ff0066'} />
          ))}
        </Bar>
      </ComposedChart>
    </div>
  )
}

function StackPane() {
  return (
    <div style={{ position: 'absolute', left: 56, top: 884 }}>
      <ComposedChart width={CHART_W} height={156} data={stackRows} margin={{ top: 0, right: 0, bottom: 0, left: 0 }}>
        <CartesianGrid stroke="#f0f3fa" />
        <XAxis
          dataKey="i"
          type="number"
          domain={X_DOMAIN}
          ticks={monthTicks}
          allowDataOverflow
          height={26}
          tick={<MonthTick />}
          tickLine={false}
          axisLine={{ stroke: '#e0e3eb' }}
        />
        <YAxis
          orientation="right"
          width={PLOT_RIGHT_W}
          domain={[-2.3, 22.7]}
          ticks={stackTicks}
          interval={0}
          allowDataOverflow
          tick={makeValueTick(twoDecimal)}
          tickLine={false}
          axisLine={{ stroke: '#e0e3eb' }}
        />
        <Bar dataKey="red" stackId="s" barSize={4} fill="#ef5350" isAnimationActive={false} />
        <Bar dataKey="yellow" stackId="s" barSize={4} fill="#ffff00" isAnimationActive={false} />
        <Bar dataKey="green" stackId="s" barSize={4} fill="#149a0a" isAnimationActive={false} />
        {guideLevels.map((g) => (
          <ReferenceLine key={g} y={g} stroke="#7b1fa2" strokeWidth={1} />
        ))}
        {Path({ pts: toPts(stackLinePts), stroke: '#2196f3', width: 2, curve: 'monotone' })}
      </ComposedChart>
    </div>
  )
}

// page chrome around the chart
const Txt = ({ x, y, children, size = 13, color = '#131722', weight = 400, center = false }: any) => (
  <div
    style={{
      position: 'absolute',
      left: x,
      top: y,
      transform: center ? 'translate(-50%, -50%)' : 'translateY(-50%)',
      fontSize: size,
      color,
      fontWeight: weight,
      whiteSpace: 'nowrap',
      lineHeight: 1,
    }}
  >
    {children}
  </div>
)

const Box = ({ x, y, w, h, bg, r = 0, border, shadow }: any) => (
  <div
    style={{
      position: 'absolute',
      left: x,
      top: y,
      width: w,
      height: h,
      background: bg,
      borderRadius: r,
      border,
      boxSizing: 'border-box',
      boxShadow: shadow,
    }}
  />
)

const Ico = ({ x, y, size = 24, children, color = '#131722', sw = 1 }: any) => (
  <svg
    width={size}
    height={size}
    viewBox="0 0 24 24"
    fill="none"
    stroke={color}
    strokeWidth={sw}
    style={{ position: 'absolute', left: x - size / 2, top: y - size / 2 }}
  >
    {children}
  </svg>
)

const Badge = ({ x, y, text, w = 18 }: any) => (
  <div
    style={{
      position: 'absolute',
      left: x - w / 2,
      top: y - 8,
      width: w,
      height: 16,
      borderRadius: 8,
      background: '#f23645',
      color: '#fff',
      fontSize: 11,
      lineHeight: '16px',
      textAlign: 'center',
    }}
  >
    {text}
  </div>
)

const SyncIcon = ({ x, y }: any) => (
  <>
    <div style={{ position: 'absolute', left: x - 9, top: y - 9, width: 18, height: 18, borderRadius: 9, background: '#ece6fb' }} />
    <Ico x={x} y={y} size={16} color="#7c4dff" sw={2.4}>
      <path d="M4 11a8 8 0 0 1 14-4l2 2M20 13a8 8 0 0 1-14 4l-2-2M20 4v5h-5M4 20v-5h5" />
    </Ico>
  </>
)

const PaneButton = ({ x, y, w, label }: any) => (
  <>
    <Box x={x} y={y} w={w} h={21} bg="#fff" r={3} border="1px solid #dcdcdc" />
    <Ico x={x + (label ? 12 : w / 2)} y={y + 10} size={12} sw={2}>
      <path d="M5 9l7 7l7-7" />
    </Ico>
    {label ? <Txt x={x + 21} y={y + 11} size={13} color="#333">{label}</Txt> : null}
  </>
)

const CurrencyBox = ({ y }: any) => (
  <>
    <Box x={968} y={y} w={59} h={25} bg="#fff" r={3} border="1px solid #ececec" />
    <Txt x={971} y={y + 12} size={12} color="#333">MYR</Txt>
    <Ico x={1019} y={y + 12} size={8} sw={3}>
      <path d="M5 9l7 7l7-7" />
    </Ico>
  </>
)

const intervals = [['1m', 251], ['3m', 283], ['5m', 315], ['15m', 351], ['30m', 391], ['1h', 425], ['4h', 453], ['D', 478], ['W', 501]]
const ranges = [['1D', 79], ['5D', 109], ['1M', 140], ['3M', 172], ['6M', 204], ['YTD', 239], ['1Y', 272], ['5Y', 300], ['All', 328]]
const legendParts: [string, string, number, number][] = [['O', '0.855', 254, 10], ['H', '0.860', 302, 10], ['L', '0.855', 351, 8], ['C', '0.860', 394, 9]]

function TopBar() {
  return (
    <>
      <Box x={0} y={0} w={1080} h={38} bg="#fff" />
      <div style={{ position: 'absolute', left: 12, top: 5, width: 26, height: 26, borderRadius: 13, background: '#0b0b0b' }} />
      <Txt x={24} y={19} size={12} color="#e53935" weight={800} center>
        [<span style={{ color: '#00e676' }}>M</span>]
      </Txt>
      <Badge x={39} y={9} text="11" w={20} />
      <Box x={56} y={5} w={128} h={29} bg="#ebebeb" r={15} />
      <Txt x={68} y={19} size={14} weight={700} color="#131722">KIPREIT</Txt>
      <div style={{ position: 'absolute', left: 158, top: 7, width: 25, height: 25, borderRadius: 13, background: '#fff' }} />
      <Ico x={170} y={19} size={16} sw={1.6}>
        <path d="M7 4h10l5 6l-10 11L2 10Z" />
        <circle cx="12" cy="10" r="2" fill="#131722" />
      </Ico>
      <Ico x={206} y={19} size={22}>
        <circle cx="12" cy="12" r="9" />
        <path d="M7.5 12h9M12 7.5v9" />
      </Ico>
      <Box x={230} y={8} w={1} h={23} bg="#e0e3eb" />
      <Box x={469} y={2} w={18} h={34} bg="#e6e6e6" r={4} />
      {intervals.map(([t, x]) => (
        <Txt key={t} x={x} y={19} size={13.5} color="#333" center>{t}</Txt>
      ))}
      <Ico x={526} y={19} size={10} sw={2.4}>
        <path d="M5 9l7 7l7-7" />
      </Ico>
      <Box x={542} y={8} w={1} h={23} bg="#e0e3eb" />
      <Ico x={567} y={19} size={24}>
        <path d="M8 3v4M8 17v4M16 5v3M16 15v4M5.5 7h5v10h-5zM13.5 8h5v7h-5z" />
      </Ico>
      <Box x={589} y={8} w={1} h={23} bg="#e0e3eb" />
      <Ico x={613} y={19} size={26}>
        <path d="M3 9l6-5l4 3l7-5M5 21v-7h4v7M10 21v-5h4v5M15 21v-9h4v9M3 21h18" />
      </Ico>
      <Ico x={644} y={19} size={10} sw={2.4}>
        <path d="M5 9l7 7l7-7" />
      </Ico>
      <Ico x={675} y={19} size={24}>
        <rect x="4" y="4" width="7" height="7" rx="2" />
        <rect x="13" y="4" width="7" height="7" rx="2" />
        <rect x="4" y="13" width="7" height="7" rx="2" />
        <rect x="13" y="13" width="7" height="7" rx="2" />
      </Ico>
      <Box x={698} y={8} w={1} h={23} bg="#e0e3eb" />
      <Ico x={722} y={20} size={26}>
        <path d="M14 20.5a8 8 0 1 1 6-6M12 7v5.5H8M4 5l3-3M20 5l-3-3M19 15v7M15.5 18.5h7" />
      </Ico>
      <Ico x={761} y={19} size={22}>
        <path d="M11 6l-7 6l7 6zM19 6l-7 6l7 6z" />
      </Ico>
      <Box x={785} y={8} w={1} h={23} bg="#e0e3eb" />
      <Ico x={806} y={19} size={20} color="#9a9ea8">
        <path d="M9 5l-5 5l5 5M4 10h10a6 6 0 0 1 6 6v2" />
      </Ico>
      <Ico x={844} y={19} size={20} color="#9a9ea8">
        <path d="M15 5l5 5l-5 5M20 10H10a6 6 0 0 0-6 6v2" />
      </Ico>
      <Box x={874} y={11} w={19} h={17} r={4} bg="#fff" border="1.3px solid #131722" />
      <Txt x={907} y={19} size={12.5} color="#444">INtra</Txt>
      <Box x={938} y={5} w={62} h={28} bg="#fff" r={14} border="1px solid #e8e8e8" />
      <Txt x={968} y={19} size={13.5} color="#333" center>Trade</Txt>
      <Box x={1006} y={5} w={69} h={28} bg="#2e2e2e" r={14} />
      <Txt x={1040} y={19} size={13.5} color="#fff" center>Publish</Txt>
    </>
  )
}

function LeftBar() {
  return (
    <>
      <Box x={0} y={42} w={52} h={1038} bg="#fff" />
      <Ico x={26} y={104}><circle cx="5" cy="19" r="2" /><circle cx="19" cy="5" r="2" /><path d="M6.5 17.5l11-11" /></Ico>
      <Ico x={26} y={143}><path d="M2 5h20M2 11h17M5 18h17" /><circle cx="21" cy="11" r="2" /><circle cx="3" cy="18" r="2" /></Ico>
      <Ico x={26} y={181}><path d="M5 20L8 6l8 8L19 5l2 13L5 10z" /><circle cx="5" cy="20" r="1.6" /><circle cx="8" cy="6" r="1.6" /><circle cx="19" cy="5" r="1.6" /><circle cx="21" cy="18" r="1.6" /></Ico>
      <Ico x={26} y={218}><path d="M5 4h17M5 19h17M11 9v6h3" /><circle cx="3" cy="4" r="1.8" /><circle cx="3" cy="19" r="1.8" /></Ico>
      <Ico x={26} y={258}><path d="M2 19c2-5 5-7 9-6c0 4-3 7-9 6zM14 11c2 1 4-3 8-5" /></Ico>
      <Ico x={26} y={295}><path d="M5 5h15M12.5 5v16M10 21h5" /></Ico>
      <Ico x={26} y={333}><circle cx="12" cy="12" r="10" /><circle cx="9" cy="10" r="0.6" /><circle cx="15" cy="10" r="0.6" /><path d="M8 15c2 2 6 2 8 0" /></Ico>
      <Box x={8} y={354} w={36} h={1} bg="#e8e8e8" />
      <Ico x={26} y={383}><path d="M2 16L18 4l4 5L6 21zM6 13l2 2M10 10l2 3M14 7l2 3" /></Ico>
      <Ico x={26} y={421}><circle cx="11" cy="11" r="8" /><path d="M7.5 11h7M11 7.5v7M17 17l4 4" /></Ico>
      <Box x={8} y={442} w={36} h={1} bg="#e8e8e8" />
      <Ico x={26} y={473}><path d="M4 21V12a8 8 0 0 1 16 0v9h-5V12a3 3 0 0 0-6 0v9zM4 17h5M15 17h5" /></Ico>
      <Ico x={26} y={511}><path d="M2 13L13 3l3 3L6 17l-4 0zM13 20h8v-5h-8zM15 15v-2a2 2 0 0 1 4 0" /></Ico>
      <Ico x={26} y={550}><path d="M5 11h14v10H5zM8 11V6a4 4 0 0 1 8 0" /><path d="M12 15v2" strokeWidth={2} /></Ico>
      <Ico x={26} y={587}><path d="M2 12c5-8 15-8 20 0c-5 8-15 8-20 0z" /><circle cx="12" cy="12" r="3.5" /></Ico>
      <Ico x={26} y={626} color="#666"><path d="M9 19l-3 1c-3 0-5-3-3-6l9-9c3-3 7 0 5 3l-8 9c-2 1-3-1-2-2l7-7" /></Ico>
      <Box x={8} y={648} w={36} h={1} bg="#e8e8e8" />
      <Ico x={26} y={676}><path d="M3 6h18M9 6V3h6v3M5 6l2 16h10l2-16" /></Ico>
      <Box x={9} y={1024} w={34} h={34} bg="#2a2a2a" r={6} />
      <Ico x={26} y={1041} size={22} color="#fff"><path d="M12 3l3 6l6 1l-4.5 4.5l1 6.5l-5.5-3l-5.5 3l1-6.5L3 10l6-1z" /></Ico>
    </>
  )
}

function RightBar() {
  return (
    <>
      <Box x={1040} y={42} w={40} h={1038} bg="#fff" />
      <Ico x={1058} y={66}><path d="M5 3h14v18l-7-3l-7 3zM8 7h8M8 10h8M8 13h8" /></Ico>
      <Ico x={1058} y={111} size={28}><circle cx="12" cy="13" r="8" /><path d="M12 8v5.5H8M3 6l4-3M21 6l-4-3" /></Ico>
      <Ico x={1058} y={157}><path d="M12 3l10 6l-10 6L2 9zM2 14l10 6l10-6" /></Ico>
      <Ico x={1058} y={204} size={26}><path d="M2 5h20v13H12l-5 4v-4H2zM7 9h10M7 13h10" /></Ico>
      <Badge x={1068} y={193} text="1" w={16} />
      <Ico x={1058} y={773} size={28}><circle cx="12" cy="12" r="10" /><circle cx="12" cy="12" r="6" /><circle cx="12" cy="12" r="2" fill="#131722" /><path d="M12 12l7-7" /></Ico>
      <Ico x={1058} y={816} size={28}><path d="M12 3l7 7l-7 5l-7-5zM7 13l-5 7h20l-5-7" /></Ico>
      <Ico x={1058} y={860} size={26}><rect x="2" y="5" width="20" height="17" rx="2" /><path d="M2 8h20" /><rect x="6" y="2" width="2.5" height="5" /><rect x="15.5" y="2" width="2.5" height="5" /></Ico>
      <Ico x={1058} y={910} size={26}><path d="M3 10a12 12 0 0 1 11 11M3 14a8 8 0 0 1 7 7M17 21a15 15 0 0 0-4-11" /><circle cx="4" cy="20" r="1.6" /></Ico>
      <Badge x={1061} y={896} text="99+" w={30} />
      <Ico x={1058} y={953} size={26}><path d="M3 19h18M5 19V11a7 7 0 0 1 14 0v8M9 21a3 3 0 0 0 6 0" /></Ico>
      <Badge x={1065} y={942} text="59" w={22} />
      <div style={{ position: 'absolute', left: 1041, top: 982, width: 34, height: 34, borderRadius: 17, background: '#2e2e2e' }} />
      <svg width={34} height={34} style={{ position: 'absolute', left: 1041, top: 982 }}>
        {[10, 17, 24].flatMap((cx) =>
          [10, 17, 24].map((cy) => <rect key={`${cx}-${cy}`} x={cx - 2} y={cy - 2} width={4} height={4} rx={1} fill="#fff" />),
        )}
      </svg>
      <Box x={1041} y={1027} w={34} h={1} bg="#e8e8e8" />
      <Ico x={1058} y={1056} size={28}><circle cx="12" cy="12" r="10" /><path d="M9 9a3 3 0 1 1 4.5 2.6c-1 .6-1.5 1-1.5 2.4M12 17v.5" /></Ico>
    </>
  )
}

function ChartOverlays() {
  return (
    <>
      <div style={{ position: 'absolute', left: 228, top: 49, width: 18, height: 18, borderRadius: 9, background: '#dff1ee' }} />
      <div style={{ position: 'absolute', left: 233, top: 54, width: 8, height: 8, borderRadius: 4, background: '#0a6b5c' }} />
      {legendParts.map(([k, v, x, gap]) => (
        <span key={k}>
          <Txt x={x} y={58} size={12} color="#333">{k}</Txt>
          <Txt x={x + gap} y={58} size={12} color="#22ab94">{v}</Txt>
        </span>
      ))}
      <Txt x={441} y={58} size={12} color="#22ab94">+0.005 (+0.58%)</Txt>

      <div style={{ position: 'absolute', left: 65, top: 84, width: 53, height: 24, borderRadius: '0 0 5px 5px', border: '1px solid #f7525f', borderTop: 'none', boxSizing: 'border-box', background: '#fff' }} />
      <Txt x={91} y={87} size={11} color="#f7525f" weight={700} center>0.855</Txt>
      <Txt x={91} y={99} size={11.5} color="#f7525f" center>SELL</Txt>
      <Txt x={139} y={91} size={10.5} color="#333" center>0.005</Txt>
      <div style={{ position: 'absolute', left: 160, top: 84, width: 53, height: 24, borderRadius: '0 0 5px 5px', border: '1px solid #2962ff', borderTop: 'none', boxSizing: 'border-box', background: '#fff' }} />
      <Txt x={186} y={87} size={11} color="#2962ff" weight={700} center>0.860</Txt>
      <Txt x={186} y={99} size={11.5} color="#2962ff" center>BUY</Txt>

      <Box x={10} y={43} w={211} h={41} bg="#2a2a2a" r={3} />
      <div style={{ position: 'absolute', left: 20, top: 37, width: 0, height: 0, borderLeft: '6px solid transparent', borderRight: '6px solid transparent', borderBottom: '6px solid #2a2a2a' }} />
      <Txt x={18} y={55} size={12.3} color="#e6e6e6">Logged in as MahersahamOfficial</Txt>
      <Txt x={18} y={74} size={12.3} color="#e6e6e6">Active layout: INtraswing 1D</Txt>

      <PaneButton x={65} y={115} w={46} label="12" />
      <SyncIcon x={129} y={125} />
      <PaneButton x={65} y={587} w={29} />
      <SyncIcon x={119} y={597} />
      <PaneButton x={65} y={679} w={29} />
      <SyncIcon x={119} y={689} />
      <PaneButton x={65} y={780} w={29} />
      <SyncIcon x={119} y={790} />

      <CurrencyBox y={47} />
      <CurrencyBox y={583} />
      <CurrencyBox y={676} />

      {/* floating drawing toolbox */}
      <Box x={540} y={100} w={100} h={36} bg="#fff" r={5} shadow="0 1px 5px rgba(0,0,0,0.18)" />
      <svg width={100} height={36} style={{ position: 'absolute', left: 540, top: 100 }} fill="none" stroke="#333" fontFamily={FONT}>
        {[8, 12].flatMap((x) => [11, 16, 21, 26].map((y) => <rect key={`${x}-${y}`} x={x} y={y} width={2} height={2} fill="#ddd" stroke="none" />))}
        <path d="M32 27l7-7l6 5l7-7" />
        <path d="M70 27l7-7l6 5l7-7" />
        {[[32, 27], [39, 20], [45, 25], [52, 18], [70, 27], [77, 20], [83, 25], [90, 18]].map(([x, y]) => (
          <circle key={`${x}-${y}`} cx={x} cy={y} r={2} fill="#fff" />
        ))}
        <text x={39} y={13} fontSize={8} fontWeight={700} fill="#333" stroke="none" textAnchor="middle">1</text>
        <text x={53} y={13} fontSize={8} fontWeight={700} fill="#333" stroke="none" textAnchor="middle">5</text>
        <text x={77} y={13} fontSize={8} fontWeight={700} fill="#333" stroke="none" textAnchor="middle">A</text>
        <text x={91} y={13} fontSize={8} fontWeight={700} fill="#333" stroke="none" textAnchor="middle">C</text>
      </svg>

      {/* last price tag */}
      <Box x={914} y={401} w={52} h={17} bg="#ff5252" r={2} />
      <Box x={967} y={401} w={40} h={17} bg="#ff5252" r={2} />
      <Txt x={940} y={410} size={12} color="#fff" center>KIPREIT</Txt>
      <Txt x={987} y={410} size={12} color="#fff" center>0.860</Txt>

      {/* watermark */}
      <svg width={36} height={20} viewBox="0 0 36 20" style={{ position: 'absolute', left: 66, top: 982 }}>
        <rect x={0} y={0} width={36} height={20} fill="#fff" />
        <path d="M1 3h14v14H8V9H1zM26 3l7 0l-6 14h-7zM17 6a3 3 0 1 0 0.01 0z" fill="#000" />
      </svg>

      <Ico x={997} y={1027} size={16} sw={1.4}>
        <path d="M7 3h10l5 9l-5 9H7l-5-9z" />
        <circle cx="12" cy="12" r="3" />
      </Ico>
    </>
  )
}

function BottomBar() {
  return (
    <>
      <Box x={56} y={1042} w={978} h={38} bg="#fff" />
      {ranges.map(([t, x]) => (
        <Txt key={t} x={x} y={1061} size={13} color="#333" center>{t}</Txt>
      ))}
      <Box x={348} y={1050} w={1} h={22} bg="#e8e8e8" />
      <Ico x={371} y={1061} size={22}>
        <path d="M5 8V5h14v16h-5M5 8h14M9 2v3M15 2v3M3 15h8M8 12l3 3l-3 3M4 21h4" />
      </Ico>
      <Txt x={924} y={1061} size={13} color="#333" center>12:52:03 UTC+8</Txt>
      <Box x={984} y={1050} w={1} h={22} bg="#e8e8e8" />
      <Txt x={1008} y={1061} size={13} color="#333" center>ADJ</Txt>
    </>
  )
}

export default function App() {
  return (
    <div
      style={{
        position: 'fixed',
        left: 0,
        top: 0,
        width: 1080,
        height: 1080,
        overflow: 'hidden',
        background: '#e9e9e9',
        fontFamily: FONT,
      }}
    >
      <Box x={56} y={42} w={978} h={998} bg="#fff" />
      <MainPane />
      <StepPane />
      <FlowPane />
      <HistPane />
      <StackPane />
      {[578, 671, 771, 883, 1014].map((y) => (
        <Box key={y} x={56} y={y} w={978} h={2} bg="#e0e3eb" />
      ))}
      <TopBar />
      <LeftBar />
      <RightBar />
      <BottomBar />
      <ChartOverlays />
    </div>
  )
}
